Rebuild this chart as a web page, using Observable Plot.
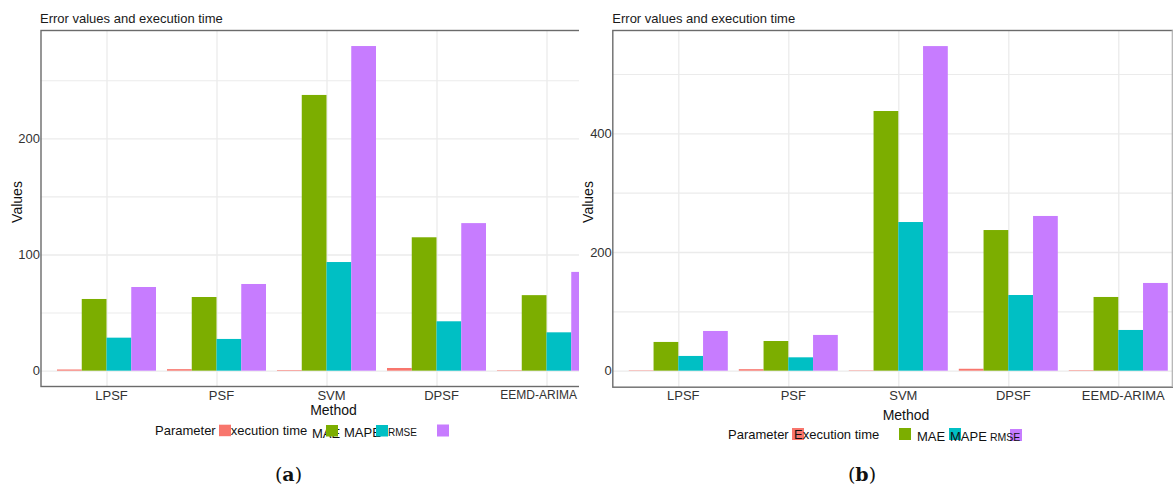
<!DOCTYPE html>
<html><head><meta charset="utf-8">
<script src="https://cdn.jsdelivr.net/npm/d3@7"></script>
<script src="https://cdn.jsdelivr.net/npm/@observablehq/plot@0.6"></script>
<style>
body{margin:0;background:#fff;}
#root{position:relative;width:1173px;height:486px;overflow:hidden;font-family:"Liberation Sans",Arial,sans-serif;background:#fff;}
.clip{position:absolute;top:0;height:486px;overflow:hidden;}
.clip svg{position:absolute;left:0;top:0;max-width:none !important;}
#overlay{position:absolute;left:0;top:0;}
</style></head><body><div id="root"></div>
<script>
// ---- data ----
const methods = ["LPSF", "PSF", "SVM", "DPSF", "EEMD-ARIMA"];
const parameters = ["Execution time", "MAE", "MAPE", "RMSE"];
const colors = ["#F8766D", "#7CAE00", "#00BFC4", "#C77CFF"];

// panel (a)
const execA = [1.0, 1.3, 0.5, 2.3, 0.4];
const maeA  = [61.7, 63.4, 237.3, 114.8, 65.0];
const mapeA = [28.4, 27.3, 93.5, 42.5, 33.0];
const rmseA = [72.0, 74.6, 279.4, 127.0, 85.0];
const majorTicksA = [0, 100, 200];
const minorTicksA = [50, 150, 250];

// panel (b)
const execB = [0.6, 2.5, 0.6, 3.2, 0.8];
const maeB  = [48.4, 50.0, 437.6, 237.0, 124.2];
const mapeB = [24.8, 22.5, 250.5, 127.5, 68.6];
const rmseB = [66.9, 60.2, 547.0, 260.7, 147.8];
const majorTicksB = [0, 200, 400];
const minorTicksB = [100, 300, 500];

const titleText = "Error values and execution time";
const xLabel = "Method";
const yLabel = "Values";
const legendTitle = "Parameter";

const FONT = '"Liberation Sans", Arial, sans-serif';

function panel({series, majorTicks, minorTicks, yDomain, marginLeft, bottom, lastLabelFit}) {
  const rows = [];
  methods.forEach((m, i) => parameters.forEach((p, j) =>
    rows.push({method: m, idx: i + 1, param: p, pj: j, value: series[j][i]})));
  const bw = 0.9 / parameters.length;
  const marginBottom = 40;
  const W = marginLeft + 572 + 14;
  const n = methods.length;
  const mainLabels = lastLabelFit ? methods.slice(0, n - 1) : methods;
  const marks = [
    Plot.ruleY(minorTicks, {y: d => d, stroke: "#EBEBEB", strokeWidth: 1.1}),
    Plot.ruleY(majorTicks, {y: d => d, stroke: "#EBEBEB", strokeWidth: 1.3}),
    Plot.ruleX(methods, {x: (d, i) => i + 1, stroke: "#EBEBEB", strokeWidth: 1.3}),
    Plot.rect(rows, {
      x1: d => d.idx - 0.45 + d.pj * bw,
      x2: d => d.idx - 0.45 + (d.pj + 1) * bw,
      y1: () => 0, y2: "value", fill: "param", inset: 0
    }),
    Plot.frame({stroke: "#6b6b6b", strokeWidth: 1.4}),
    Plot.text(majorTicks, {y: d => d, frameAnchor: "left", textAnchor: "end", dx: -1,
      text: d => String(d), fontSize: 13, fill: "#333"}),
    Plot.text(mainLabels, {x: (d, i) => i + 1, frameAnchor: "bottom", lineAnchor: "top",
      dy: 4, dx: 4.5, text: d => d, fontSize: 13, fill: "#333"})
  ];
  if (lastLabelFit) {
    // panel (a) is cropped on the right: keep the last label inside the visible area
    marks.push(Plot.text([methods[n - 1]], {x: () => n, frameAnchor: "bottom", lineAnchor: "top",
      dy: 4, dx: lastLabelFit, textAnchor: "end", text: d => d, fontSize: 12, fill: "#333"}));
  }
  return Plot.plot({
    width: W,
    height: bottom + marginBottom,
    marginLeft, marginRight: 14, marginTop: 30, marginBottom,
    x: {domain: [0.4, 5.6], axis: null},
    y: {domain: yDomain, axis: null},
    color: {domain: parameters, range: colors},
    style: {background: "transparent", fontFamily: FONT, overflow: "visible", maxWidth: "none", width: W + "px"},
    marks
  });
}

const root = document.getElementById("root");

const clipA = document.createElement("div");
clipA.className = "clip"; clipA.style.left = "0px"; clipA.style.width = "579px";
clipA.appendChild(panel({
  series: [execA, maeA, mapeA, rmseA],
  majorTicks: majorTicksA, minorTicks: minorTicksA,
  yDomain: [-13.2, 293.2], marginLeft: 40.5, bottom: 386, lastLabelFit: 30
}));
root.appendChild(clipA);

const clipB = document.createElement("div");
clipB.className = "clip"; clipB.style.left = "579px"; clipB.style.width = "594px";
clipB.appendChild(panel({
  series: [execB, maeB, mapeB, rmseB],
  majorTicks: majorTicksB, minorTicks: minorTicksB,
  yDomain: [-27, 574.1], marginLeft: 33.3, bottom: 386.7
}));
root.appendChild(clipB);

// ---- overlay text: titles, axis labels, legends, captions ----
const svg = d3.select(root).append("svg").attr("id", "overlay")
  .attr("width", 1173).attr("height", 486)
  .style("font-family", FONT);

// right edge line of panel (b)
svg.append("line").attr("x1", 1172.3).attr("x2", 1172.3).attr("y1", 30).attr("y2", 387)
  .attr("stroke", "#b0b0b0").attr("stroke-width", 1.2);

const panelsText = [
  {titleX: 40, yLabX: 22, methodX: 333.5, methodY: 415},
  {titleX: 612.3, yLabX: 593, methodX: 906, methodY: 420}
];
panelsText.forEach(p => {
  svg.append("text").attr("x", p.titleX).attr("y", 23).attr("font-size", 13)
    .attr("fill", "#1a1a1a").text(titleText);
  svg.append("text").attr("transform", `translate(${p.yLabX},202) rotate(-90)`)
    .attr("text-anchor", "middle").attr("font-size", 14).attr("fill", "#111").text(yLabel);
  svg.append("text").attr("x", p.methodX).attr("y", p.methodY).attr("text-anchor", "middle")
    .attr("font-size", 14).attr("fill", "#111").text(xLabel);
});

function rect(x, y, w, h, c) {
  svg.append("rect").attr("x", x).attr("y", y).attr("width", w).attr("height", h).attr("fill", c);
}
function txt(x, y, s, size) {
  svg.append("text").attr("x", x).attr("y", y).attr("font-size", size).attr("fill", "#111").text(s);
}

// legend (a): swatches drawn over the labels
txt(155, 434.7, legendTitle, 13);
txt(222, 434.7, parameters[0], 13);
txt(312, 438, parameters[1], 13);
txt(344, 436.5, parameters[2], 13);
txt(388, 436, parameters[3], 10);
rect(219, 424.7, 12, 11.5, colors[0]);
rect(326, 425, 12, 11.5, colors[1]);
rect(376, 425, 12, 11.5, colors[2]);
rect(437, 424.5, 12, 12, colors[3]);

// legend (b): labels drawn over the swatches
rect(792, 428, 12, 12, colors[0]);
rect(899, 428, 12, 12, colors[1]);
rect(949, 428, 12, 12, colors[2]);
rect(1010, 429, 12, 12, colors[3]);
txt(728, 439, legendTitle, 13);
txt(794, 439, parameters[0], 13);
txt(917, 441, parameters[1], 13);
txt(950, 441, parameters[2], 13);
txt(990, 441, parameters[3], 10.5);

// captions
[["a", 288.5], ["b", 862]].forEach(([l, x]) => {
  const t = svg.append("text").attr("x", x).attr("y", 481).attr("text-anchor", "middle")
    .attr("font-family", '"DejaVu Serif", "Liberation Serif", serif').attr("font-size", 19).attr("fill", "#111");
  t.append("tspan").text("(");
  t.append("tspan").attr("font-weight", "bold").text(l);
  t.append("tspan").text(")");
});
</script></body></html>
